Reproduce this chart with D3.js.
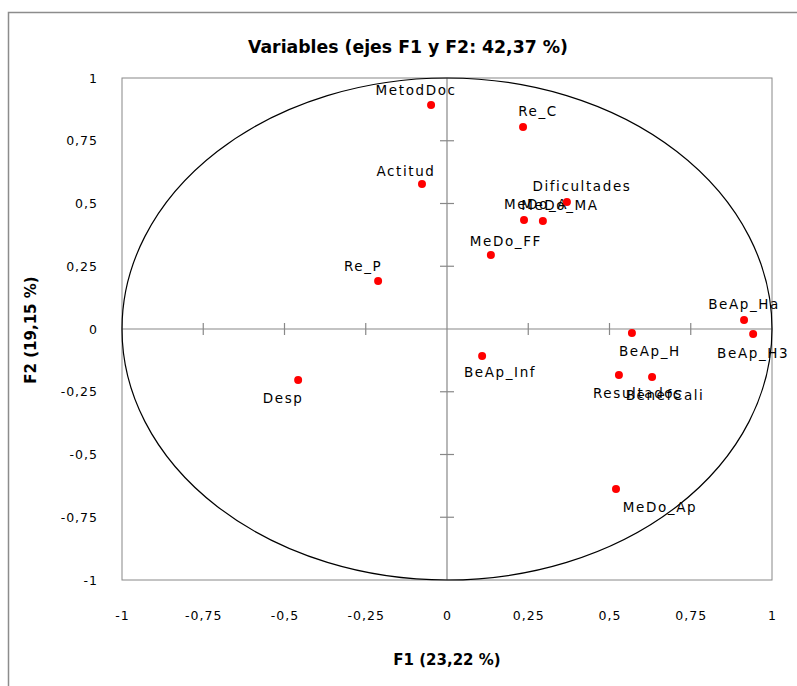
<!DOCTYPE html>
<html>
<head>
<meta charset="utf-8">
<script src="https://cdn.jsdelivr.net/npm/d3@7"></script>
<style>
  html, body { margin: 0; padding: 0; background: #fff; }
  svg { display: block; }
  text { font-family: "DejaVu Sans", sans-serif; fill: #000; }
</style>
</head>
<body>
<svg id="chart" width="797" height="686"></svg>
<script>
// Variables projected on the first factorial plane (F1 x F2)
const variables = ["MetodDoc", "Re_C", "Actitud", "Dificultades", "MeDo_A", "MeDo_MA", "MeDo_FF", "Re_P",
                   "BeAp_Ha", "BeAp_H3", "BeAp_H", "BeAp_Inf", "Resultados", "BenefCali", "Desp", "MeDo_Ap"];
const f1Values = [-0.049, 0.234, -0.077, 0.369, 0.237, 0.295, 0.135, -0.212,
                  0.914, 0.942, 0.569, 0.108, 0.529, 0.631, -0.458, 0.520];
const f2Values = [0.892, 0.805, 0.578, 0.506, 0.434, 0.430, 0.295, 0.191,
                  0.036, -0.020, -0.016, -0.108, -0.183, -0.191, -0.203, -0.637];
const tickValues = [-1, -0.75, -0.5, -0.25, 0, 0.25, 0.5, 0.75, 1];
const tickLabels = ["-1", "-0,75", "-0,5", "-0,25", "0", "0,25", "0,5", "0,75", "1"];

// Label placement relative to each point (pixels)
const labelDx = [-15, 15, -16, 15, 12, 17, 15, -15, 0, 0, 18, 18, 19, 13, -15, 44];
const labelDy = [-15, -16, -13, -16, -16, -16, -14, -15, -16, 19, 18, 16, 18, 18, 18, 18];

const titleText = "Variables (ejes F1 y F2: 42,37 %)";
const xTitle = "F1 (23,22 %)";
const yTitle = "F2 (19,15 %)";

const svg = d3.select("#chart");

const x = d3.scaleLinear().domain([-1, 1]).range([122, 772]);
const y = d3.scaleLinear().domain([-1, 1]).range([580, 78]);

// outer chart frame
svg.append("rect")
  .attr("x", 8.5).attr("y", 12.5)
  .attr("width", 800).attr("height", 700)
  .attr("fill", "none").attr("stroke", "#8c8c8c").attr("stroke-width", 1.5);

// title
svg.append("text")
  .attr("x", 408).attr("y", 47)
  .attr("text-anchor", "middle").attr("dominant-baseline", "central")
  .attr("font-family", "'Open Sans', sans-serif")
  .attr("font-weight", "bold").attr("font-size", 17)
  .attr("textLength", 320).attr("lengthAdjust", "spacingAndGlyphs")
  .text(titleText);

// plot frame
svg.append("rect")
  .attr("x", x(-1)).attr("y", y(1))
  .attr("width", x(1) - x(-1)).attr("height", y(-1) - y(1))
  .attr("fill", "none").attr("stroke", "#888").attr("stroke-width", 1);

// axes through the origin
const g = svg.append("g").attr("stroke", "#888").attr("stroke-width", 1.2);
g.append("line").attr("x1", x(-1)).attr("x2", x(1)).attr("y1", y(0)).attr("y2", y(0));
g.append("line").attr("x1", x(0)).attr("x2", x(0)).attr("y1", y(-1)).attr("y2", y(1));
const inner = tickValues.filter(v => v !== 0 && Math.abs(v) !== 1);
g.selectAll(".tx").data(inner).join("line")
  .attr("x1", d => x(d)).attr("x2", d => x(d))
  .attr("y1", y(0) - 6).attr("y2", y(0) + 6);
g.selectAll(".ty").data(inner).join("line")
  .attr("y1", d => y(d)).attr("y2", d => y(d))
  .attr("x1", x(0) - 7).attr("x2", x(0) + 7);

// correlation circle
svg.append("ellipse")
  .attr("cx", x(0)).attr("cy", y(0))
  .attr("rx", x(1) - x(0)).attr("ry", y(0) - y(1))
  .attr("fill", "none").attr("stroke", "#000").attr("stroke-width", 1.2);

// tick labels
const fmt = d => tickLabels[tickValues.indexOf(d)];
const xAxis = svg.append("g")
  .attr("transform", "translate(0,611)")
  .call(d3.axisBottom(x).tickValues(tickValues).tickFormat(fmt).tickSize(0).tickPadding(0));
const yAxis = svg.append("g")
  .attr("transform", "translate(98,0)")
  .call(d3.axisLeft(y).tickValues(tickValues).tickFormat(fmt).tickSize(0).tickPadding(0));
[xAxis, yAxis].forEach(a => {
  a.select(".domain").remove();
  a.selectAll("text")
    .attr("fill", "#000")
    .attr("font-family", "'DejaVu Sans', sans-serif")
    .attr("font-size", 12.5)
    .attr("letter-spacing", 1);
});

// axis titles
svg.append("text")
  .attr("x", 447).attr("y", 660)
  .attr("text-anchor", "middle").attr("dominant-baseline", "central")
  .attr("font-family", "'Open Sans', sans-serif")
  .attr("font-weight", "bold").attr("font-size", 15)
  .text(xTitle);
svg.append("text")
  .attr("transform", "translate(31,330) rotate(-90)")
  .attr("text-anchor", "middle").attr("dominant-baseline", "central")
  .attr("font-family", "'Open Sans', sans-serif")
  .attr("font-weight", "bold").attr("font-size", 15)
  .text(yTitle);

// points and labels
const data = variables.map((name, i) => ({ name, f1: f1Values[i], f2: f2Values[i], dx: labelDx[i], dy: labelDy[i] }));

svg.append("g").selectAll("text").data(data).join("text")
  .attr("x", d => x(d.f1) + d.dx)
  .attr("y", d => y(d.f2) + d.dy)
  .attr("text-anchor", "middle").attr("dominant-baseline", "central")
  .attr("font-size", 13.5)
  .attr("letter-spacing", 1.6)
  .attr("fill", "#000")
  .text(d => d.name);

svg.append("g").selectAll("circle").data(data).join("circle")
  .attr("cx", d => x(d.f1))
  .attr("cy", d => y(d.f2))
  .attr("r", 4)
  .attr("fill", "#ff0000");
</script>
</body>
</html>
